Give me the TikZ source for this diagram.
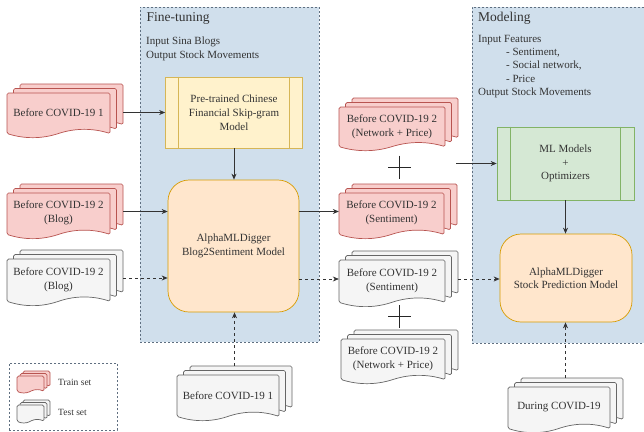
\documentclass[tikz,border=0pt]{standalone}
\usepackage{fontspec}
\setmainfont{Liberation Serif}
\usetikzlibrary{arrows.meta}
\definecolor{txt}{HTML}{333333}
\definecolor{panelfill}{HTML}{D0DFEC}
\definecolor{panelline}{HTML}{5F6F80}
\definecolor{pinkfill}{HTML}{F8CECC}
\definecolor{pinkline}{HTML}{B85450}
\definecolor{grayfill}{HTML}{F5F5F5}
\definecolor{grayline}{HTML}{666666}
\definecolor{yelfill}{HTML}{FFF2CC}
\definecolor{yelline}{HTML}{D6B656}
\definecolor{orfill}{HTML}{FFE6CC}
\definecolor{orline}{HTML}{D79B00}
\definecolor{grfill}{HTML}{D5E8D4}
\definecolor{grline}{HTML}{82B366}
\tikzset{
  panel/.style={rectangle, inner sep=0pt, fill=panelfill, draw=panelline, dash pattern=on 2pt off 2pt, line width=0.6pt},
  legendbox/.style={rectangle, inner sep=0pt, draw=panelline, dash pattern=on 2pt off 2pt, line width=0.6pt},
  pinkdoc/.style={fill=pinkfill, draw=pinkline, line width=0.7pt, rounded corners=1.5pt},
  graydoc/.style={fill=grayfill, draw=grayline, line width=0.7pt, rounded corners=1.5pt},
  doctext/.style={text=txt, align=center, inner sep=0pt, font=\fontsize{11}{14}\selectfont},
  bodytext/.style={text=txt, align=left, inner sep=0pt, anchor=west, font=\fontsize{11}{13.4}\selectfont},
  legtext/.style={text=txt, inner sep=0pt, anchor=west, font=\fontsize{9.5}{11}\selectfont},
  titletext/.style={text=txt, inner sep=0pt, anchor=west, font=\fontsize{13.5}{16}\selectfont},
  procbox/.style={rectangle, inner sep=0pt, text=txt, align=center, font=\fontsize{11}{13.8}\selectfont, line width=0.7pt},
  modelbox/.style={rectangle, rounded corners=21pt, inner sep=0pt, text=txt, align=center, font=\fontsize{11}{13.5}\selectfont, fill=orfill, draw=orline, line width=0.7pt},
  arr/.style={draw=txt, line width=0.7pt, -{Stealth[length=6pt,width=5pt]}},
  darr/.style={arr, dash pattern=on 3pt off 3pt},
  plusline/.style={draw=black!85, line width=1pt},
}
% one layer of a document: style, left, top, width, height
\newcommand\docpath[5]{%
  \pgfmathsetmacro\dpa{0.2*#5}%
  \draw[#1] (#2,#3) -- ({#2+#4},#3) -- ({#2+#4},{#3+#5-\dpa/2})
     .. controls ({#2+0.8333*#4},{#3+#5-1.1*\dpa}) and ({#2+0.6667*#4},{#3+#5-1.1*\dpa}) .. ({#2+0.5*#4},{#3+#5-\dpa/2})
     .. controls ({#2+0.3333*#4},{#3+#5+0.1*\dpa}) and ({#2+0.1667*#4},{#3+#5+0.1*\dpa}) .. (#2,{#3+#5-\dpa/2}) -- cycle;
}
% stack of documents: name, x0, y0, x1, y1, style, dx, dy, text
\newcommand\docstack[9]{%
  \pgfmathsetmacro\dsW{#4-#2}\pgfmathsetmacro\dsH{#5-#3}%
  \pgfmathsetmacro\dsw{\dsW-2*#7}\pgfmathsetmacro\dsh{\dsH-2*#8}%
  \pgfmathsetmacro\dslA{#2+2*#7}\pgfmathsetmacro\dslB{#2+#7}%
  \pgfmathsetmacro\dstB{#3+#8}\pgfmathsetmacro\dstC{#3+2*#8}%
  \docpath{#6}{\dslA}{#3}{\dsw}{\dsh}%
  \docpath{#6}{\dslB}{\dstB}{\dsw}{\dsh}%
  \docpath{#6}{#2}{\dstC}{\dsw}{\dsh}%
  \node[inner sep=0pt, minimum width=\dsW pt, minimum height=\dsH pt] (#1) at ({(#2+#4)/2},{(#3+#5)/2}) {};
  \node[doctext] (#1-t) at ({#2+\dsw/2},{\dstC+0.44*\dsh}) {#9};
}
\begin{document}
\begin{tikzpicture}[x=1pt,y=-1pt]
\useasboundingbox (0,0) rectangle (644,431);
\clip (0,0) rectangle (644,431);
\fill[white] (0,0) rectangle (644,431);
% panels
\node[panel, minimum width=179pt, minimum height=335pt] (ft) at (229.5,174.5) {};
\node[panel, minimum width=180pt, minimum height=336pt] (md) at (562,175) {};
\node[legendbox, minimum width=108pt, minimum height=67pt] (leg) at (63,396.5) {};
% panel texts
\node[titletext] (ftt) at (146.5,18) {Fine-tuning};
\node[bodytext] (fti) at (146,49) {Input Sina Blogs\\Output Stock Movements};
\node[titletext] (mdt) at (478,18) {Modeling};
\node[bodytext] (mdi) at (478,66.5) {Input Features\\\hspace*{28pt}- Sentiment,\\\hspace*{28pt}- Social network,\\\hspace*{28pt}- Price\\Output Stock Movements};
% documents
\docstack{A}{7}{84}{123}{138}{pinkdoc}{6.5}{4.5}{Before COVID-19 1}
\docstack{B}{7}{184}{123}{239}{pinkdoc}{6.5}{4.5}{Before COVID-19 2\\(Blog)}
\docstack{C}{7}{250}{123}{306}{graydoc}{6.5}{4.5}{Before COVID-19 2\\(Blog)}
\docstack{D}{177}{366}{292}{421}{graydoc}{6.5}{4.5}{Before COVID-19 1}
\docstack{E}{339}{98}{458}{151}{pinkdoc}{6.5}{4.5}{Before COVID-19 2\\(Network + Price)}
\docstack{F}{339}{184}{457}{239}{pinkdoc}{6.5}{4.5}{Before COVID-19 2\\(Sentiment)}
\docstack{G}{339}{251}{458}{307}{graydoc}{6.5}{4.5}{Before COVID-19 2\\(Sentiment)}
\docstack{H}{341}{330}{458}{384}{graydoc}{6.5}{4.5}{Before COVID-19 2\\(Network + Price)}
\docstack{I}{508}{378}{623}{433}{graydoc}{6.5}{4.5}{During COVID-19}
\docstack{L1}{17}{371}{50}{393}{pinkdoc}{3}{2.5}{}
\docstack{L2}{17}{400}{50}{423}{graydoc}{3}{2.5}{}
\node[legtext] (l1t) at (58,382) {Train set};
\node[legtext] (l2t) at (58,412) {Test set};
% process boxes
\node[procbox, fill=yelfill, draw=yelline, minimum width=137pt, minimum height=71pt] (Y) at (234,112.5) {Pre-trained Chinese\\Financial Skip-gram\\Model};
\draw[yelline, line width=0.7pt] ([xshift=13.5pt]Y.north west) -- ([xshift=13.5pt]Y.south west)
  ([xshift=-14pt]Y.north east) -- ([xshift=-14pt]Y.south east);
\node[procbox, fill=grfill, draw=grline, minimum width=137pt, minimum height=73pt] (ML) at (565.5,163.5) {ML Models\\+\\Optimizers};
\draw[grline, line width=0.7pt] ([xshift=14pt]ML.north west) -- ([xshift=14pt]ML.south west)
  ([xshift=-14pt]ML.north east) -- ([xshift=-14pt]ML.south east);
% model boxes
\node[modelbox, minimum width=131pt, minimum height=132pt] (S) at (233.5,246) {AlphaMLDigger\\Blog2Sentiment Model};
\node[modelbox, minimum width=132pt, minimum height=88pt] (P) at (566,278) {AlphaMLDigger\\Stock Prediction Model};
% plus signs
\draw[plusline] (388,167) -- (411,167) (399.5,155.5) -- (399.5,178.5);
\draw[plusline] (388,316) -- (411,316) (399.5,305) -- (399.5,327.5);
% connectors
\coordinate (mlin) at (456,163.5);
\draw[arr] (A.east |- Y.west) -- (Y.west);
\draw[arr] (Y.south) -- (Y.south |- S.north);
\draw[arr] (B.east) -- (B.east -| S.west);
\draw[darr] (C.east) -- (C.east -| S.west);
\draw[darr] (D.north) -- (D.north |- S.south);
\draw[arr] (F.west -| S.east) -- (F.west);
\draw[darr] (G.west -| S.east) -- (G.west);
\draw[arr] (mlin) -- (ML.west);
\draw[arr] (ML.south) -- (ML.south |- P.north);
\draw[darr] (G.east) -- (G.east -| P.west);
\draw[darr] (I.north) -- (I.north |- P.south);
\end{tikzpicture}
\end{document}
